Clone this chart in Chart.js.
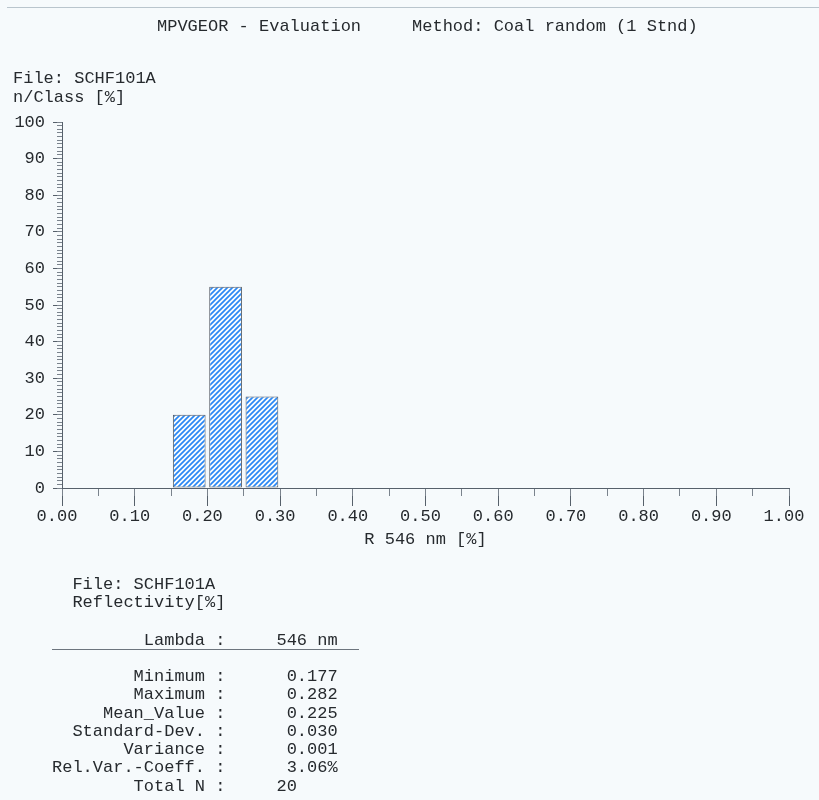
<!DOCTYPE html>
<html>
<head>
<meta charset="utf-8">
<script src="https://cdn.jsdelivr.net/npm/chart.js@4.4.1/dist/chart.umd.min.js"></script>
<style>
  html, body { margin: 0; padding: 0; background: #f6fafc; }
  #sheet { position: relative; width: 819px; height: 800px; overflow: hidden; background: #f6fafc; }
  #plot { position: absolute; left: 0; top: 0; }
  .txt { position: absolute; font-family: "Liberation Mono", "DejaVu Sans Mono", monospace; font-size: 17px;
         color: #262a2e; white-space: pre; margin: 0; }
  #rule-top { position: absolute; left: 7px; right: 0; top: 7px; border-top: 1px solid #b9c5cd; }
  #rule-lambda { position: absolute; left: 52px; width: 307px; top: 649px; border-top: 1px solid #6d757e; }
</style>
</head>
<body>
<div id="sheet">
  <canvas id="plot" width="819" height="800"></canvas>
  <div id="rule-top"></div>
  <pre class="txt" id="header" style="left:157px; top:18px; line-height:18px;"></pre>
  <pre class="txt" id="fileinfo" style="left:13px; top:69px; line-height:19px;"></pre>
  <pre class="txt" id="summary" style="left:52px; top:576px; line-height:18px;"></pre>
  <pre class="txt" id="lambda" style="left:52px; top:632px; line-height:18px;"></pre>
  <div id="rule-lambda"></div>
  <pre class="txt" id="stats" style="left:52px; top:668px; line-height:18.3px;"></pre>
</div>
<script>
// Histogram classes (centre of each 0.05 reflectance class) and share of measurements
const classCenters = [0.175, 0.225, 0.275];
const classPercent = [20, 55, 25];

// Axis ranges and steps
const xRange = [0, 1];
const xMajorStep = 0.1;
const xMinorStep = 0.05;
const yRange = [0, 100];
const yMajorStep = 10;
const yMinorStep = 1;

// Report texts
const reportTitle = 'MPVGEOR - Evaluation';
const reportMethod = 'Method: Coal random (1 Stnd)';
const fileName = 'SCHF101A';
const yAxisTitle = 'n/Class [%]';
const xAxisTitle = 'R 546 nm [%]';
const wavelength = 546;

// Summary statistics
const statNames = ['Minimum', 'Maximum', 'Mean_Value', 'Standard-Dev.', 'Variance', 'Rel.Var.-Coeff.'];
const statValues = [0.177, 0.282, 0.225, 0.030, 0.001, 3.06];
const statUnits = ['', '', '', '', '', '%'];
const totalN = 20;

// ---- text blocks ----
document.getElementById('header').textContent = reportTitle + '     ' + reportMethod;
document.getElementById('fileinfo').textContent = 'File: ' + fileName + '\n' + yAxisTitle;
document.getElementById('summary').textContent = '  File: ' + fileName + '\n  Reflectivity[%]';
document.getElementById('lambda').textContent = 'Lambda'.padStart(15) + ' :     ' + wavelength + ' nm';
const statLines = statNames.map((name, i) => {
  const v = statUnits[i] === '%' ? statValues[i].toFixed(2) + '%' : statValues[i].toFixed(3);
  return name.padStart(15) + ' :      ' + v;
});
statLines.push('Total N'.padStart(15) + ' :     ' + totalN);
document.getElementById('stats').textContent = statLines.join('\n');

// ---- chart ----
const canvas = document.getElementById('plot');
const ctx = canvas.getContext('2d');

// diagonal blue hatching used to fill the class bars
function hatchFill() {
  const s = 5;
  const tile = document.createElement('canvas');
  tile.width = s; tile.height = s;
  const g = tile.getContext('2d');
  g.fillStyle = '#fafdff';
  g.fillRect(0, 0, s, s);
  g.strokeStyle = '#2a87f4';
  g.lineWidth = 1.7;
  g.beginPath();
  g.moveTo(-1, s + 1); g.lineTo(s + 1, -1);
  g.moveTo(-1, 1); g.lineTo(1, -1);
  g.moveTo(s - 1, s + 1); g.lineTo(s + 1, s - 1);
  g.stroke();
  return ctx.createPattern(tile, 'repeat');
}

const monoFont = { family: '"Liberation Mono", "DejaVu Sans Mono", monospace', size: 17 };
const inkColor = '#262a2e';
const axisColor = '#56606b';

new Chart(ctx, {
  type: 'bar',
  data: {
    datasets: [{
      data: classCenters.map((c, i) => ({ x: c, y: classPercent[i] })),
      xAxisID: 'x',
      yAxisID: 'y',
      backgroundColor: hatchFill(),
      borderColor: '#535a63',
      borderWidth: 1,
      borderSkipped: false,
      barPercentage: 0.9,
      categoryPercentage: 1
    }]
  },
  options: {
    responsive: false,
    animation: false,
    events: [],
    layout: { padding: { top: 122, right: 30, bottom: 250, left: 0 } },
    plugins: { legend: { display: false }, tooltip: { enabled: false }, title: { display: false } },
    scales: {
      x: {
        type: 'linear', position: 'bottom', weight: 1,
        min: xRange[0], max: xRange[1], offset: false,
        grid: { offset: false, drawOnChartArea: false, drawTicks: true, tickLength: 18, tickColor: axisColor, tickWidth: 1 },
        border: { display: true, color: axisColor, width: 1 },
        ticks: { stepSize: xMajorStep, autoSkip: false, maxRotation: 0, padding: 0, labelOffset: -5,
                 font: monoFont, color: inkColor, callback: v => Number(v).toFixed(2) },
        title: { display: true, text: xAxisTitle, font: monoFont, color: inkColor, padding: 0 },
        afterFit(scale) { scale.height = 62; }
      },
      xMinor: {
        type: 'linear', position: 'bottom', weight: 0,
        min: xRange[0], max: xRange[1], offset: false,
        grid: { offset: false, drawOnChartArea: false, drawTicks: true, tickLength: 8, tickColor: '#7a838d', tickWidth: 1 },
        border: { display: false },
        ticks: { stepSize: xMinorStep, autoSkip: false, display: false },
        afterFit(scale) { scale.height = 0; }
      },
      y: {
        type: 'linear', position: 'left', weight: 1,
        min: yRange[0], max: yRange[1],
        grid: { drawOnChartArea: false, drawTicks: true, tickLength: 9, tickColor: axisColor, tickWidth: 1 },
        border: { display: true, color: axisColor, width: 1 },
        ticks: { stepSize: yMajorStep, autoSkip: false, padding: 8, font: monoFont, color: inkColor },
        afterFit(scale) { scale.width = 62; }
      },
      yMinor: {
        type: 'linear', position: 'left', weight: 0,
        min: yRange[0], max: yRange[1],
        grid: { drawOnChartArea: false, drawTicks: true, tickLength: 5, tickColor: '#7a838d', tickWidth: 1 },
        border: { display: false },
        ticks: { stepSize: yMinorStep, autoSkip: false, display: false },
        afterFit(scale) { scale.width = 0; }
      }
    }
  }
});
</script>
</body>
</html>
